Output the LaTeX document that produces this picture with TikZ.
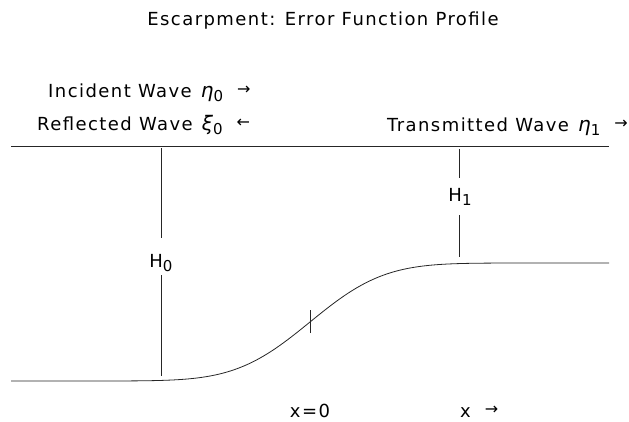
\documentclass[tikz,border=0pt]{standalone}
\usepackage{fontspec}
\setmainfont{DejaVu Sans}[LetterSpace=8]
\newfontfamily\arrowfont{DejaVu Sans}
\newcommand\gk[1]{\hspace{2pt}{\fontsize{20}{20}\selectfont\itshape #1}}
\newcommand\lowsub[1]{\raisebox{-0.45ex}{\fontsize{15}{15}\selectfont #1}}
\newcommand\rarr{\hspace{14pt}\raisebox{3pt}{\arrowfont\fontsize{16}{16}\selectfont →}}
\newcommand\larr{\hspace{14pt}\raisebox{3pt}{\arrowfont\fontsize{16}{16}\selectfont ←}}
\begin{document}
\begin{tikzpicture}[x=1pt,y=-1pt,
  lbl/.style={inner sep=0pt,font=\fontsize{18}{18}\selectfont},
  ln/.style={line width=0.8pt,draw=black!85}]
\useasboundingbox (0,0) rectangle (629,421);
% title and labels
\node[lbl,anchor=base] (title) at (323,25) {Escarpment: Error Function Profile};
\node[lbl,anchor=base west] (inc) at (48,97) {Incident Wave \gk{η}\lowsub{0}\rarr};
\node[lbl,anchor=base west] (ref) at (37,130) {Reflected Wave \gk{ξ}\lowsub{0}\larr};
\node[lbl,anchor=base east] (tra) at (628,131) {Transmitted Wave \gk{η}\lowsub{1}\rarr};
\node[lbl,anchor=base] (x0) at (310,417) {x=0};
\node[lbl,anchor=base west] (xa) at (460,417) {x\rarr};
% free surface
\coordinate (s0) at (11,146);
\coordinate (s1) at (609,146);
\draw[ln] (s0) -- (s1);
% bottom profile
\draw[ln] plot[domain=11:609,samples=200,smooth]
  (\x,{322-59*tanh(1.1283792*((\x-310)/82)*(1+0.08943*((\x-310)/82)^2))});
% depth markers
\node[lbl] (H0) at (161,263) {H\lowsub{0}};
\coordinate (h0t) at (161,148);
\coordinate (h0b) at (161,376);
\draw[ln] (h0t) -- (H0.north |- 0,238);
\draw[ln] (H0.south |- 0,275) -- (h0b);
\node[lbl] (H1) at (460,197) {H\lowsub{1}};
\coordinate (h1t) at (459,149);
\coordinate (h1b) at (459,257);
\draw[ln] (h1t) -- (459,178);
\draw[ln] (459,215) -- (h1b);
% tick at x=0
\coordinate (tk) at (310,322);
\draw[ln] ([yshift=-11]tk) -- ([yshift=12]tk);
\end{tikzpicture}
\end{document}
